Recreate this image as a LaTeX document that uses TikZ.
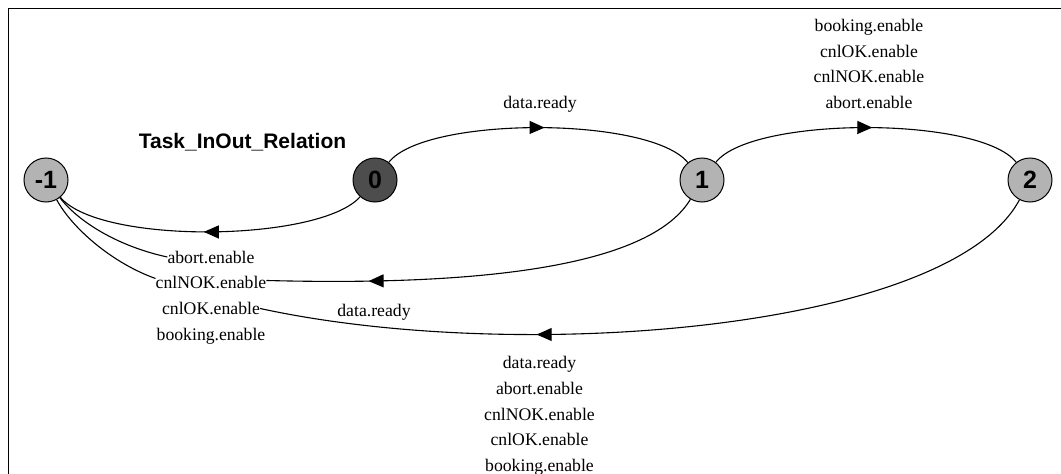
\documentclass[tikz,border=0pt]{standalone}
\usepackage{fontspec}
\setmainfont{Liberation Serif}
\setsansfont{Liberation Sans}
\usetikzlibrary{decorations.markings,arrows.meta}

\definecolor{stateLight}{HTML}{B3B3B3}
\definecolor{stateDark}{HTML}{4D4D4D}

\tikzset{
  state/.style={circle, draw=black, line width=1pt, minimum size=44pt,
    inner sep=0pt, fill=stateLight,
    font=\sffamily\bfseries\fontsize{25}{25}\selectfont},
  startstate/.style={state, fill=stateDark},
  lbl/.style={font=\fontsize{17.7}{20}\selectfont, inner sep=0pt, anchor=base},
  trans/.style={line width=1.1pt},
  midarrow/.style={decoration={markings,
      mark=at position #1 with {\arrow{Triangle[length=15pt,width=13pt]}}},
    postaction={decorate}},
}

\begin{document}
\begin{tikzpicture}[x=1pt, y=-1pt]
\useasboundingbox (0,0) rectangle (1061,474);

% frame
\draw[line width=1pt] (1061,8) -- (8,8) -- (8,474);

% title
\node[anchor=base, inner sep=0pt, font=\sffamily\bfseries\fontsize{21}{21}\selectfont]
  (title) at (242.5,148) {Task\_InOut\_Relation};

% states
\node[state] (sm1) at (46,180) {-1};
\node[startstate] (s0) at (375,180) {0};
\node[state] (s1) at (702,180) {1};
\node[state] (s2) at (1030,180) {2};

% labels of 0 -> 1
\node[lbl] (l01) at (540,108) {data.ready};

% labels of 1 -> 2
\node[lbl] (l12a) at (869,31.5) {booking.enable};
\node[lbl] (l12b) at (869,57) {cnlOK.enable};
\node[lbl] (l12c) at (869,82.5) {cnlNOK.enable};
\node[lbl] (l12d) at (869,108) {abort.enable};

% labels near -1
\node[lbl] (lAbort) at (211,263) {abort.enable};
\node[lbl] (lNOK) at (211,288.5) {cnlNOK.enable};
\node[lbl] (lOK) at (211,314.5) {cnlOK.enable};
\node[lbl] (lBook) at (211,340) {booking.enable};

% label of 1 -> -1
\node[lbl] (l1m) at (374,316.5) {data.ready};

% labels of 2 -> -1
\node[lbl] (l2a) at (539.5,368.5) {data.ready};
\node[lbl] (l2b) at (539.5,394.3) {abort.enable};
\node[lbl] (l2c) at (539.5,420) {cnlNOK.enable};
\node[lbl] (l2d) at (539.5,445.8) {cnlOK.enable};
\node[lbl] (l2e) at (539.5,471.6) {booking.enable};

% transitions
\draw[trans, midarrow=0.52] (s0) .. controls (425,116) and (650,116) .. (s1);
\draw[trans, midarrow=0.52] (s1) .. controls (752,116) and (980,116) .. (s2);
\draw[trans, midarrow=0.52] (s0) .. controls (320,242) and (100,245) .. (sm1);
\draw[trans, midarrow=0.77] (s1) .. controls (645,275) and (440,285) .. ([yshift=2pt]lNOK.east);
\draw[trans] (lAbort.west) .. controls (125,248) and (82,226) .. (sm1);
\draw[trans, midarrow=0.65] (s2) .. controls (950,330) and (520,365) .. (lOK.east);
\draw[trans] ([yshift=4pt]lNOK.west) .. controls (112,263) and (72,228) .. (sm1);
\end{tikzpicture}
\end{document}
